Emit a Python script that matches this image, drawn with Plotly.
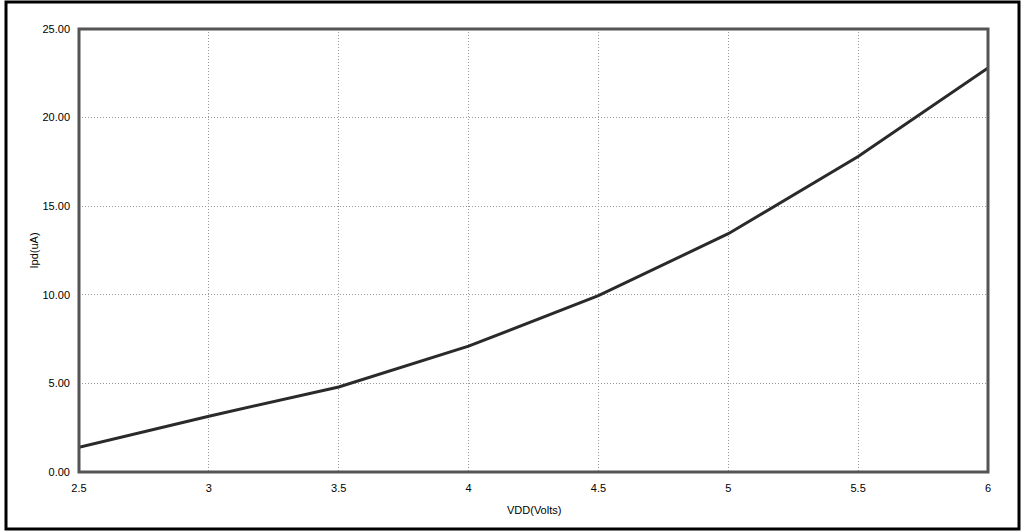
import plotly.graph_objects as go

vdd = [2.5, 3.0, 3.5, 4.0, 4.5, 5.0, 5.5, 6.0]
ipd = [1.4, 3.15, 4.8, 7.1, 9.95, 13.45, 17.8, 22.8]
y_ticks = [0, 5, 10, 15, 20, 25]
x_ticks = [2.5, 3, 3.5, 4, 4.5, 5, 5.5, 6]

L, R, T, B = 79, 988, 29, 472
W, H = 1023, 531
pw, ph = R - L, B - T

def px(x):
    return (x - L) / pw

def py(y):
    return (B - y) / ph

fig = go.Figure()
fig.add_trace(go.Scatter(x=vdd, y=ipd, mode="lines",
                         line=dict(color="#2a2a2a", width=3), showlegend=False))

font = dict(family="Liberation Sans, Arial, sans-serif", size=11, color="#000")

fig.update_layout(
    width=W, height=H,
    margin=dict(l=L, r=W - R, t=T, b=H - B),
    paper_bgcolor="white", plot_bgcolor="white",
    font=font,
    xaxis=dict(range=[2.5, 6], tickvals=x_ticks, ticktext=[f"{v:g}" for v in x_ticks],
               showgrid=True, gridcolor="#999", griddash="1px,2px", gridwidth=1,
               zeroline=False, showline=False, ticks="", ticklabelstandoff=8,
               tickfont=font),
    yaxis=dict(range=[0, 25], tickvals=y_ticks, ticktext=[f"{v:.2f}" for v in y_ticks],
               showgrid=True, gridcolor="#999", griddash="1px,2px", gridwidth=1,
               zeroline=False, showline=False, ticks="", ticklabelstandoff=8,
               tickfont=font),
    shapes=[
        dict(type="rect", xref="paper", yref="paper", x0=0, x1=1, y0=0, y1=1,
             line=dict(color="#555", width=3), layer="above"),
        dict(type="rect", xref="paper", yref="paper",
             x0=px(6), x1=px(1019), y0=py(529), y1=py(2),
             line=dict(color="#000", width=3), layer="above"),
    ],
    annotations=[
        dict(text="VDD(Volts)", xref="paper", yref="paper", x=0.5, y=py(510),
             showarrow=False, font=font, xanchor="center", yanchor="middle"),
        dict(text="Ipd(uA)", xref="paper", yref="paper", x=px(33), y=0.5,
             showarrow=False, font=font, textangle=-90, xanchor="center", yanchor="middle"),
    ],
)

fig.write_html("out.html", config={"displayModeBar": False},
               post_script="document.body.style.margin='0';document.body.style.overflow='hidden';")
